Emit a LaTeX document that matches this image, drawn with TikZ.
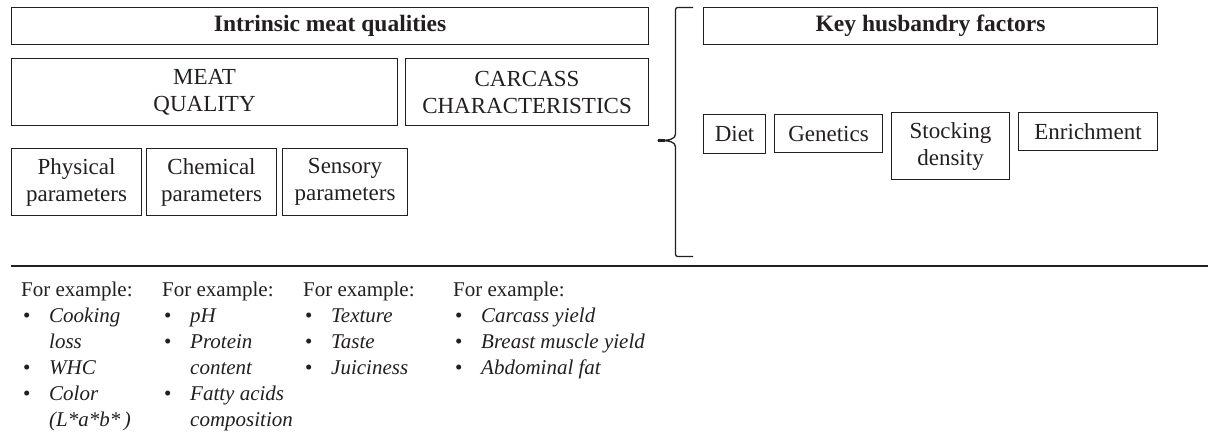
\documentclass[tikz,border=0pt]{standalone}
\usepackage{fontspec}
\setmainfont{Liberation Serif}
\definecolor{ink}{HTML}{231F20}
\tikzset{
  box/.style={draw=ink, line width=1.1pt, inner sep=0pt, anchor=north west, align=center,
              text=ink, font=\fontsize{23}{27}\selectfont},
  head/.style={box, font=\fontsize{23.5}{27}\selectfont\bfseries},
  ex/.style={anchor=base west, inner sep=0pt, align=left, text=ink,
             font=\fontsize{21}{26}\selectfont},
}
\newcommand{\itm}[1]{\hspace*{2pt}\makebox[26pt][l]{\textbullet}\textit{#1}}
\newcommand{\cnt}[1]{\hspace*{28pt}\textit{#1}}
\begin{document}
\begin{tikzpicture}[x=1pt,y=-1pt]
\useasboundingbox (0,0) rectangle (1208,433);
% left side
\node[head, minimum width=637pt, minimum height=37pt] (imq) at (11,7) {Intrinsic meat qualities};
\node[box, minimum width=386pt, minimum height=67pt] (mq) at (11,58) {MEAT\\QUALITY};
\node[box, minimum width=243pt, minimum height=67pt] (cc) at (405,58) {CARCASS\\CHARACTERISTICS};
\node[box, minimum width=130pt, minimum height=67pt] (phy) at (11,148) {Physical\\parameters};
\node[box, minimum width=130pt, minimum height=67pt] (chem) at (146,148) {Chemical\\parameters};
\node[box, minimum width=125pt, minimum height=67pt] (sens) at (282,148) {Sensory\\parameters};
% brace
\draw[ink, line width=1.3pt, line join=round]
  (693,7.5) -- (680,7.5) .. controls (675.5,7.5) .. (675.5,13)
  -- (675.5,134) .. controls (675.5,139) and (670,140.5) .. (658,140.5)
  .. controls (670,140.5) and (675.5,142) .. (675.5,147)
  -- (675.5,251) .. controls (675.5,256.5) .. (680,256.5) -- (693,256.5);
\draw[ink, line width=2.2pt] (658,140.5) -- (665,140.5);
% right side
\node[head, minimum width=454pt, minimum height=37pt] (khf) at (703,7) {Key husbandry factors};
\node[box, minimum width=62pt, minimum height=39pt] (diet) at (703,114) {Diet};
\node[box, minimum width=108pt, minimum height=38pt] (gen) at (774,114) {Genetics};
\node[box, minimum width=118pt, minimum height=67pt] (stock) at (891,112) {Stocking\\density};
\node[box, minimum width=139pt, minimum height=38pt] (enr) at (1018,112) {Enrichment};
% separator
\coordinate (sepL) at (11,266);
\coordinate (sepR) at (1208,266);
\draw[ink, line width=2pt] (sepL) -- (sepR);
% examples (base anchor = baseline of last line)
\node[ex] (ex1) at (21,426) {For example:\\\itm{Cooking}\\\cnt{loss}\\\itm{WHC}\\\itm{Color}\\\cnt{(L*a*b*\,)}};
\node[ex] (ex2) at (162,426) {For example:\\\itm{pH}\\\itm{Protein}\\\cnt{content}\\\itm{Fatty acids}\\\cnt{composition}};
\node[ex] (ex3) at (303,374) {For example:\\\itm{Texture}\\\itm{Taste}\\\itm{Juiciness}};
\node[ex] (ex4) at (453,374) {For example:\\\itm{Carcass yield}\\\itm{Breast muscle yield}\\\itm{Abdominal fat}};
\end{tikzpicture}
\end{document}
